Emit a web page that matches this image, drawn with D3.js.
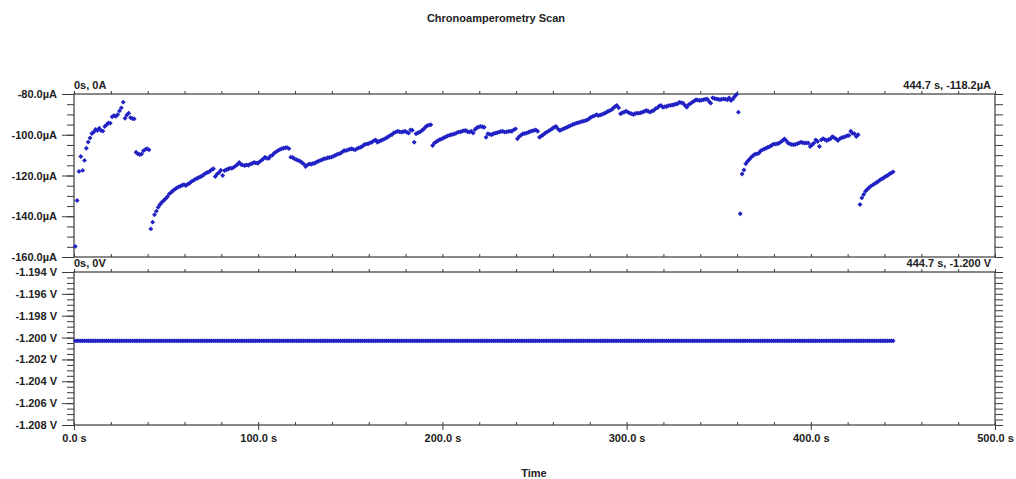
<!DOCTYPE html>
<html>
<head>
<meta charset="utf-8">
<script src="https://cdn.jsdelivr.net/npm/d3@7"></script>
<style>
  body { margin: 0; background: #fff; }
  svg { display: block; }
</style>
</head>
<body>
<div id="chart"></div>
<script>
// sampling of the scan: one point per second, last point at 444.7 s
var sampleStart = 0.7
var sampleStep = 1.0

// current readings, µA (one per sample)
var currentValues = [
  -154.8, -132.3, -118.0, -110.7, -117.5, -112.6, -106.6, -103.6, -101.6, -99.4,
  -98.7, -97.4, -97.9, -96.8, -97.9, -98.2, -96.0, -95.1, -94.2, -94.3,
  -91.2, -90.6, -91.0, -90.1, -88.3, -86.8, -84.0, -91.9, -90.3, -89.4,
  -91.6, -92.0, -92.2, -108.6, -109.4, -109.7, -109.5, -107.9, -107.2, -106.9,
  -107.4, -146.2, -142.9, -139.3, -137.5, -135.6, -134.2, -133.1, -132.3, -131.4,
  -130.4, -129.0, -128.3, -127.5, -126.8, -126.1, -125.6, -125.3, -124.8, -124.5,
  -124.9, -124.3, -123.8, -123.0, -122.5, -121.9, -121.5, -121.0, -120.6, -120.1,
  -119.4, -118.8, -118.4, -117.9, -117.2, -116.7, -120.5, -119.3, -118.6, -117.4,
  -120.0, -117.6, -117.2, -116.8, -116.4, -116.5, -116.0, -115.3, -114.6, -113.6,
  -114.6, -114.9, -115.1, -114.8, -115.0, -114.4, -114.1, -113.6, -113.8, -114.0,
  -113.3, -112.6, -111.9, -111.0, -111.5, -111.6, -110.4, -110.0, -109.0, -108.4,
  -107.8, -107.3, -106.9, -106.6, -106.4, -106.3, -106.8, -111.0, -111.2, -111.8,
  -112.2, -112.6, -113.0, -113.6, -114.3, -115.6, -114.9, -114.3, -114.5, -114.1,
  -114.0, -113.4, -113.0, -112.6, -112.3, -111.8, -111.7, -111.3, -111.2, -111.0,
  -110.6, -110.2, -109.7, -109.4, -109.1, -108.4, -107.7, -107.8, -107.4, -107.1,
  -106.9, -107.2, -107.4, -106.8, -106.4, -106.1, -105.5, -104.8, -104.6, -104.4,
  -104.0, -103.7, -103.0, -102.5, -103.7, -103.2, -102.8, -102.4, -102.0, -101.5,
  -100.9, -100.3, -99.9, -99.0, -98.7, -98.3, -98.5, -98.7, -98.5, -98.3,
  -98.8, -99.2, -97.6, -97.8, -103.7, -99.5, -99.0, -98.7, -98.0, -97.3,
  -96.3, -95.5, -95.3, -95.1, -105.3, -104.0, -103.4, -102.8, -102.3, -102.0,
  -101.5, -101.1, -100.6, -100.3, -100.0, -99.8, -99.5, -99.1, -98.7, -98.6,
  -98.3, -98.0, -97.9, -98.5, -98.7, -98.3, -99.2, -97.4, -96.6, -96.2,
  -95.9, -96.1, -96.3, -101.2, -99.5, -99.8, -100.0, -99.5, -99.2, -99.0,
  -98.7, -98.4, -98.3, -98.7, -98.6, -98.4, -98.2, -98.3, -97.6, -97.1,
  -102.0, -100.9, -100.2, -99.5, -99.4, -99.2, -98.8, -98.4, -98.1, -97.9,
  -97.6, -98.3, -101.2, -100.6, -100.0, -99.3, -98.7, -98.1, -97.6, -96.9,
  -96.3, -95.9, -97.1, -97.9, -97.5, -97.1, -96.7, -96.3, -95.8, -95.5,
  -95.0, -94.7, -94.3, -94.1, -93.8, -93.5, -93.3, -93.0, -92.7, -92.0,
  -91.4, -91.0, -90.6, -90.1, -90.6, -90.3, -90.0, -89.6, -89.2, -88.6,
  -88.2, -87.8, -87.0, -86.1, -85.6, -86.8, -89.7, -89.2, -88.9, -88.4,
  -88.9, -89.4, -89.7, -90.1, -89.6, -89.4, -89.4, -89.2, -88.9, -88.5,
  -88.1, -88.5, -88.9, -88.4, -88.1, -87.2, -86.8, -85.9, -85.6, -86.5,
  -86.2, -86.1, -85.7, -85.6, -85.4, -85.3, -84.9, -84.8, -84.0, -84.3,
  -84.5, -85.6, -86.5, -85.2, -84.7, -84.0, -83.4, -82.8, -83.0, -83.2,
  -83.0, -82.8, -82.6, -82.4, -83.5, -84.5, -81.9, -82.2, -82.4, -82.6,
  -82.8, -82.6, -82.4, -82.6, -82.8, -81.9, -83.2, -82.4, -81.2, -80.2,
  -88.9, -138.8, -119.3, -117.3, -114.2, -113.0, -112.0, -111.0, -110.2, -109.6,
  -109.4, -109.1, -108.0, -107.4, -107.0, -106.6, -106.1, -105.8, -105.3, -104.6,
  -104.6, -104.4, -104.2, -103.5, -102.8, -102.0, -103.0, -104.1, -104.5, -104.8,
  -104.9, -104.7, -104.4, -104.0, -103.7, -103.9, -104.1, -104.0, -104.1, -105.8,
  -104.9, -104.1, -102.5, -103.3, -105.8, -102.5, -101.9, -102.4, -102.8, -102.3,
  -102.0, -100.9, -101.5, -102.0, -102.8, -102.0, -101.5, -101.2, -100.9, -100.5,
  -100.4, -98.3, -99.3, -99.5, -100.9, -100.0, -134.2, -131.0, -129.3, -127.7,
  -126.8, -125.9, -125.2, -124.6, -124.0, -123.4, -122.8, -122.1, -121.6, -121.1,
  -120.4, -120.0, -119.3, -118.8, -118.2
]

// applied potential, V (held for the whole scan)
var voltageLevel = -1.2003

// axis ticks
var timeTicks = [0, 100, 200, 300, 400, 500]
var currentTicks = [-160, -140, -120, -100, -80]
var voltageTicks = [-1.208, -1.206, -1.204, -1.202, -1.200, -1.198, -1.196, -1.194]

var title = "Chronoamperometry Scan"
var xTitle = "Time"
var cornerLabels = {
  currentStart: "0s, 0A",
  currentEnd: "444.7 s, -118.2µA",
  voltageStart: "0s, 0V",
  voltageEnd: "444.7 s, -1.200 V"
}

var chart = {

  width: 1016,

  height: 479,

  font: "'Liberation Sans', Arial, sans-serif",

  color: "#2121c4",

  draw: function() {

    var svg = d3.select("#chart").append("svg")
        .attr("width", chart.width)
        .attr("height", chart.height)
        .style("background", "#fff")

    var points = currentValues.map((v, i) => ({ t: sampleStart + i * sampleStep, i: v, v: voltageLevel }))

    var x = d3.scaleLinear().domain([0, 500]).range([74, 995])
    var yTop = d3.scaleLinear().domain([-160, -80]).range([257, 94])
    var yBot = d3.scaleLinear().domain([-1.208, -1.194]).range([425, 272])

    var panels = [
      { y: yTop, key: "i", ticks: currentTicks, minor: d3.range(-160, -79, 5),
        fmt: d => d.toFixed(1) + "µA", start: cornerLabels.currentStart, end: cornerLabels.currentEnd },
      { y: yBot, key: "v", ticks: voltageTicks, minor: d3.range(0, 29).map(k => -1.208 + k * 0.0005),
        fmt: d => d.toFixed(3) + " V", start: cornerLabels.voltageStart, end: cornerLabels.voltageEnd }
    ]

    var minorTime = d3.range(0, 501, 20)

    panels.forEach(function(p) {

      var top = p.y.range()[1], bottom = p.y.range()[0]

      // minor ticks along the left side
      svg.append("g")
        .attr("transform", "translate(74,0)")
        .call(d3.axisLeft(p.y).tickValues(p.minor).tickSize(7).tickFormat(""))
        .call(chart.style)

      // labelled ticks on the left
      svg.append("g")
        .attr("transform", "translate(74,0)")
        .call(d3.axisLeft(p.y).tickValues(p.ticks).tickSize(12).tickPadding(5).tickFormat(p.fmt))
        .call(chart.style)

      // right side ticks
      svg.append("g")
        .attr("transform", "translate(995,0)")
        .call(d3.axisRight(p.y).tickValues(p.minor).tickSize(8).tickFormat(""))
        .call(chart.style)

      // time ticks on the top edge (pointing up) and bottom edge (pointing in)
      svg.append("g")
        .attr("transform", "translate(0," + top + ")")
        .call(d3.axisTop(x).tickValues(minorTime).tickSize(3).tickFormat(""))
        .call(chart.style)

      svg.append("g")
        .attr("transform", "translate(0," + bottom + ")")
        .call(d3.axisBottom(x).tickValues(minorTime).tickSize(-3).tickFormat(""))
        .call(chart.style)

      svg.append("rect")
        .attr("x", 74)
        .attr("y", top)
        .attr("width", 995 - 74)
        .attr("height", bottom - top)
        .attr("fill", "none")
        .attr("stroke", "#3a3a3a")
        .attr("stroke-width", 1.2)

      svg.append("text")
        .attr("x", 74)
        .attr("y", top - 5)
        .attr("font-family", chart.font)
        .attr("font-size", 11)
        .attr("font-weight", "bold")
        .attr("fill", "#222")
        .text(p.start)

      svg.append("text")
        .attr("x", 991)
        .attr("y", top - 5)
        .attr("text-anchor", "end")
        .attr("font-family", chart.font)
        .attr("font-size", 11)
        .attr("font-weight", "bold")
        .attr("fill", "#222")
        .text(p.end)

      svg.append("g")
        .selectAll("path")
        .data(points)
        .join("path")
          .attr("d", d3.symbol(d3.symbolSquare, 12))
          .attr("transform", d => "translate(" + x(d.t) + "," + p.y(d[p.key]) + ") rotate(45)")
          .attr("fill", chart.color)
    })

    // labelled time axis under the lower panel
    svg.append("g")
      .attr("transform", "translate(0,425)")
      .call(d3.axisBottom(x).tickValues(timeTicks).tickSize(5).tickPadding(4).tickFormat(d => d.toFixed(1) + " s"))
      .call(chart.style)

    svg.append("text")
      .attr("x", 496)
      .attr("y", 22)
      .attr("text-anchor", "middle")
      .attr("font-family", chart.font)
      .attr("font-size", 11)
      .attr("font-weight", "bold")
      .attr("fill", "#222")
      .text(title)

    svg.append("text")
      .attr("x", 534)
      .attr("y", 477)
      .attr("text-anchor", "middle")
      .attr("font-family", chart.font)
      .attr("font-size", 11)
      .attr("font-weight", "bold")
      .attr("fill", "#222")
      .text(xTitle)
  },

  style: function(g) {
    g.select(".domain").remove()
    g.selectAll(".tick line").attr("stroke", "#3a3a3a")
    g.selectAll(".tick text")
      .attr("font-family", chart.font)
      .attr("font-size", 11)
      .attr("font-weight", "bold")
      .attr("fill", "#222")
  }

}

chart.draw()
</script>
</body>
</html>
